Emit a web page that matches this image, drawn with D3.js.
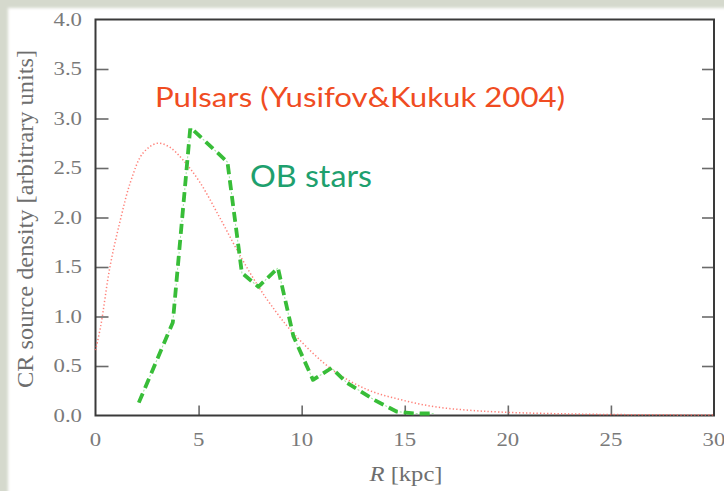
<!DOCTYPE html>
<html>
<head>
<meta charset="utf-8">
<script src="https://cdn.jsdelivr.net/npm/d3@7/dist/d3.min.js"></script>
<style>
  html, body { margin: 0; padding: 0; background: #d5d9cd; }
  svg { display: block; }
</style>
</head>
<body>
<script>
// Radial distribution of cosmic-ray sources in the Galaxy
const pulsarR   = [0, 0.25, 0.7, 1.2, 1.7, 2.3, 3.0, 3.6, 4.25, 5.05, 6.05, 7.0, 7.85, 8.5, 9.6, 11.5, 13.2, 14.8, 16.4, 18, 19.6, 22, 25, 30];
const pulsarVal = [0.66, 0.90, 1.50, 1.97, 2.36, 2.65, 2.75, 2.71, 2.58, 2.36, 1.99, 1.62, 1.32, 1.12, 0.83, 0.46, 0.26, 0.16, 0.09, 0.055, 0.035, 0.02, 0.01, 0.005];

const obR   = [2.1, 3.75, 4.6, 6.4, 7.1, 7.9, 8.85, 9.6, 10.55, 11.45, 12.2, 13.5, 14.6, 15.5, 16.5];
const obVal = [0.13, 0.94, 2.91, 2.56, 1.44, 1.30, 1.49, 0.80, 0.36, 0.48, 0.33, 0.16, 0.04, 0.02, 0.02];

const xTickValues = [0, 5, 10, 15, 20, 25, 30];
const xTickLabels = ["0", "5", "10", "15", "20", "25", "30"];
const yTickValues = [0, 0.5, 1.0, 1.5, 2.0, 2.5, 3.0, 3.5, 4.0];
const yTickLabels = ["0.0", "0.5", "1.0", "1.5", "2.0", "2.5", "3.0", "3.5", "4.0"];

const W = 724, H = 491;
const svg = d3.select("body").append("svg").attr("width", W).attr("height", H);

// slide panel with a soft edge
const defs = svg.append("defs");
defs.append("filter").attr("id", "soft").attr("x", "-5%").attr("y", "-5%").attr("width", "110%").attr("height", "110%")
  .append("feGaussianBlur").attr("stdDeviation", 1.5);
svg.append("rect").attr("width", W).attr("height", H).attr("fill", "#d5d9cd");
svg.append("rect").attr("x", 8).attr("y", 8).attr("width", W).attr("height", H)
  .attr("fill", "#ffffff").attr("filter", "url(#soft)");

const x = d3.scaleLinear().domain([0, 30]).range([95.5, 714]);
const y = d3.scaleLinear().domain([0, 4]).range([415.5, 19.5]);

// inward ticks
const tickColor = "#6a6a6a";
const gl = svg.append("g").attr("transform", `translate(${x(0)},0)`)
  .call(d3.axisLeft(y).tickValues([0.5, 1, 1.5, 2, 2.5, 3, 3.5]).tickSize(-13).tickFormat(""));
const gr = svg.append("g").attr("transform", `translate(${x(30)},0)`)
  .call(d3.axisRight(y).tickValues([0.5, 1, 1.5, 2, 2.5, 3, 3.5]).tickSize(-12).tickFormat(""));
const gb = svg.append("g").attr("transform", `translate(0,${y(0)})`)
  .call(d3.axisBottom(x).tickValues([5, 10, 15, 20, 25]).tickSize(-10).tickFormat(""));
[gl, gr, gb].forEach(g => {
  g.select(".domain").remove();
  g.selectAll(".tick line").attr("stroke", tickColor).attr("stroke-width", 1.6);
});

// frame
svg.append("rect")
  .attr("x", x(0)).attr("y", y(4))
  .attr("width", x(30) - x(0)).attr("height", y(0) - y(4))
  .attr("fill", "none").attr("stroke", "#3a3a3a").attr("stroke-width", 2);

// tick labels
const labelFont = "'Liberation Serif', 'Times New Roman', serif";
svg.append("g").selectAll("text").data(yTickValues).join("text")
  .attr("transform", d => `translate(82,${y(d) + 6}) scale(1.2,1)`)
  .attr("text-anchor", "end")
  .attr("font-family", labelFont).attr("font-size", 19).attr("fill", "#7a7a7a")
  .text((d, i) => yTickLabels[i]);
svg.append("g").selectAll("text").data(xTickValues).join("text")
  .attr("transform", d => `translate(${x(d)},446) scale(1.2,1)`)
  .attr("text-anchor", "middle")
  .attr("font-family", labelFont).attr("font-size", 19).attr("fill", "#7a7a7a")
  .text((d, i) => xTickLabels[i]);

// axis titles
svg.append("text")
  .attr("transform", "translate(33,219) rotate(-90)")
  .attr("text-anchor", "middle")
  .attr("font-family", labelFont).attr("font-size", 23).attr("fill", "#6e6e6e")
  .attr("textLength", 338).attr("lengthAdjust", "spacingAndGlyphs")
  .text("CR source density [arbitrary units]");
const xt = svg.append("text")
  .attr("x", 406).attr("y", 481)
  .attr("text-anchor", "middle")
  .attr("font-family", labelFont).attr("font-size", 20).attr("fill", "#6e6e6e")
  .attr("textLength", 73).attr("lengthAdjust", "spacingAndGlyphs");
xt.append("tspan").attr("font-style", "italic").text("R");
xt.append("tspan").text(" [kpc]");

// pulsar distribution
const pulsarLine = d3.line().x(d => x(d[0])).y(d => y(d[1])).curve(d3.curveCatmullRom.alpha(0.5));
svg.append("path")
  .datum(pulsarR.map((r, i) => [r, pulsarVal[i]]))
  .attr("d", pulsarLine)
  .attr("fill", "none").attr("stroke", "#ff6a60").attr("stroke-width", 1.5)
  .attr("stroke-dasharray", "1.3 2.2").attr("opacity", 0.85);

// OB star distribution
const obLine = d3.line().x(d => x(d[0])).y(d => y(d[1]));
const obData = obR.map((r, i) => [r, obVal[i]]);
svg.append("path").datum(obData).attr("d", obLine)
  .attr("fill", "none").attr("stroke", "#a6e8a6").attr("stroke-width", 1.1)
  .attr("stroke-dasharray", "2 2");
svg.append("path").datum(obData).attr("d", obLine)
  .attr("fill", "none").attr("stroke", "#38bd38").attr("stroke-width", 3.8)
  .attr("stroke-dasharray", "10 6").attr("stroke-linejoin", "round");

// series labels
svg.append("text")
  .attr("x", 155).attr("y", 107)
  .attr("font-family", "Lato, 'Open Sans', sans-serif").attr("font-size", 27).attr("fill", "#f04c22")
  .attr("textLength", 410).attr("lengthAdjust", "spacingAndGlyphs")
  .text("Pulsars (Yusifov&Kukuk 2004)");
svg.append("text")
  .attr("x", 250).attr("y", 187)
  .attr("font-family", "Lato, 'Open Sans', sans-serif").attr("font-size", 30).attr("fill", "#1ea06e")
  .attr("textLength", 122).attr("lengthAdjust", "spacingAndGlyphs")
  .text("OB stars");
</script>
</body>
</html>
